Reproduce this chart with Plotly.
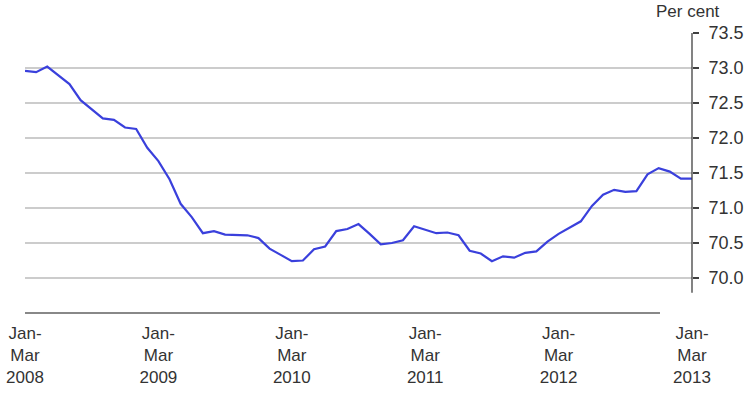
import plotly.graph_objects as go

# Rolling quarterly periods, Jan-Mar 2008 ... Jan-Mar 2013 (monthly steps)
period_index = list(range(61))
rate = [
    72.96, 72.94, 73.02, 72.90, 72.77, 72.54, 72.41, 72.28, 72.26, 72.15,
    72.13, 71.86, 71.67, 71.41, 71.06, 70.87, 70.64, 70.67, 70.62, 70.62,
    70.61, 70.57, 70.42, 70.33, 70.24, 70.25, 70.41, 70.45, 70.67, 70.70,
    70.77, 70.63, 70.48, 70.50, 70.54, 70.74, 70.69, 70.64, 70.65, 70.61,
    70.39, 70.35, 70.24, 70.31, 70.29, 70.36, 70.38, 70.52, 70.63, 70.72,
    70.81, 71.03, 71.19, 71.26, 71.23, 71.24, 71.48, 71.57, 71.52, 71.42,
    71.42,
]
x_tick_vals = [0, 12, 24, 36, 48, 60]
x_tick_text = ["Jan-<br>Mar<br>2008", "Jan-<br>Mar<br>2009", "Jan-<br>Mar<br>2010",
               "Jan-<br>Mar<br>2011", "Jan-<br>Mar<br>2012", "Jan-<br>Mar<br>2013"]
y_tick_vals = [70.0, 70.5, 71.0, 71.5, 72.0, 72.5, 73.0, 73.5]

FONT = "Liberation Sans, Arial, sans-serif"
TXT = "#333333"

fig = go.Figure()
fig.add_trace(go.Scatter(
    x=period_index, y=rate, mode="lines",
    line=dict(color="#3a40dc", width=2.2),
    hoverinfo="skip", showlegend=False,
))

fig.update_layout(
    width=754, height=393,
    margin=dict(l=25, r=62, t=33, b=80, autoexpand=False),
    paper_bgcolor="white", plot_bgcolor="white",
    font=dict(family=FONT, size=17, color=TXT),
    xaxis=dict(
        range=[0, 60], tickvals=x_tick_vals, ticktext=x_tick_text,
        showgrid=False, zeroline=False, showline=False, ticks="",
        tickfont=dict(size=17, color=TXT), ticklabelstandoff=8,
        automargin=False,
    ),
    yaxis=dict(
        range=[69.5, 73.5], side="right", tickvals=y_tick_vals,
        tickformat=".1f", showgrid=True, gridcolor="#cccccc", gridwidth=1.3,
        zeroline=False, showline=False, ticks="outside", ticklen=6,
        tickcolor="#404040", tickwidth=1.3,
        tickfont=dict(size=18, color=TXT), ticklabelstandoff=6,
        automargin=False,
    ),
    shapes=[
        # right value axis line
        dict(type="line", xref="paper", yref="y", x0=1, x1=1, y0=69.79, y1=73.5,
             line=dict(color="#404040", width=1.3)),
        # bottom axis line
        dict(type="line", xref="paper", yref="paper", x0=0, x1=0.952, y0=0, y1=0,
             line=dict(color="#606060", width=1.3)),
    ],
    annotations=[
        dict(text="Per cent", xref="paper", yref="paper", x=(688 - 25) / 667, y=1,
             yanchor="bottom", xanchor="center", yshift=10, showarrow=False,
             font=dict(size=17, color=TXT)),
    ],
)

fig.write_html(
    "out.html",
    config={"displayModeBar": False, "staticPlot": True},
    post_script="document.body.style.margin='0';document.body.style.overflow='hidden';",
)
